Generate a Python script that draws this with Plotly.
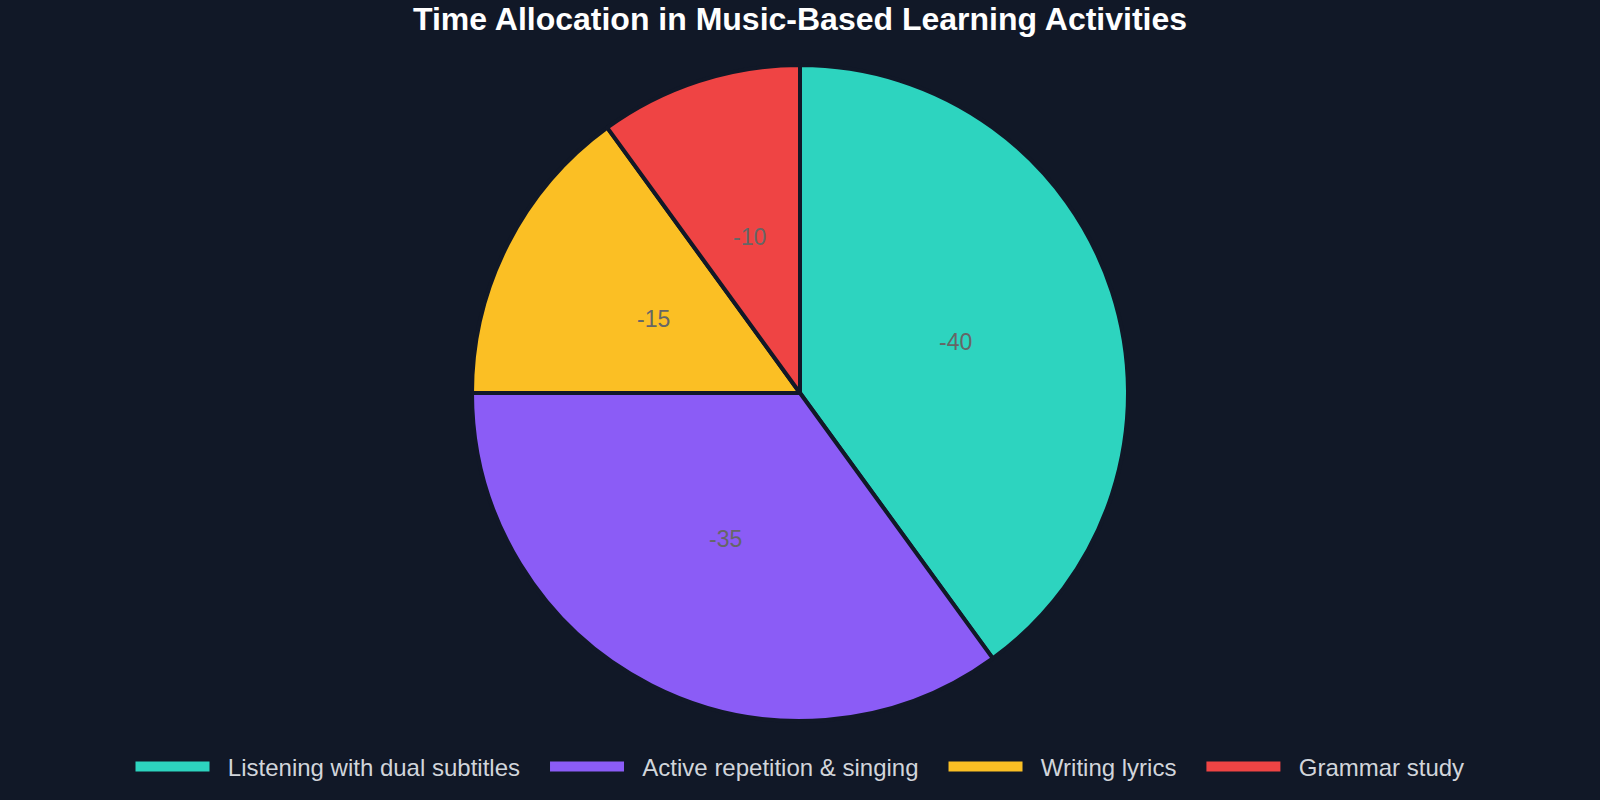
import math
import plotly.graph_objects as go

categories = ["Listening with dual subtitles", "Active repetition & singing", "Writing lyrics", "Grammar study"]
values = [40, 35, 15, 10]
colors = ["#2dd4bf", "#8b5cf6", "#fbbf24", "#ef4444"]

W, H = 1600, 800
M_L, M_R, M_T, M_B = 0, 0, 65, 79
FONT = "Liberation Sans, Arial, sans-serif"
NBSP = "\u00a0"

fig = go.Figure(go.Pie(
    labels=categories,
    values=values,
    sort=False,
    direction="clockwise",
    rotation=0,
    marker=dict(colors=colors, line=dict(color="#111827", width=4)),
    textinfo="none",
    hoverinfo="label+value",
    showlegend=False,
))

# legend entries (wide colour boxes) for each category
for i, (name, c) in enumerate(zip(categories, colors)):
    pad_after = NBSP * 3 if i < len(categories) - 1 else ""
    fig.add_trace(go.Scatter(
        x=[None], y=[None], mode="lines", name=NBSP * 2 + name + pad_after,
        line=dict(color=c, width=19), hoverinfo="skip",
    ))

# data labels at the middle radius of each slice (computed from the values)
radius = (H - M_T - M_B) / 2
total = sum(values)
cum = 0
for v in values:
    mid = (cum + v / 2) / total * 2 * math.pi
    cum += v
    fig.add_annotation(
        x=0.5, y=0.5, xref="paper", yref="paper",
        xshift=radius / 2 * math.sin(mid),
        yshift=radius / 2 * math.cos(mid),
        text=f"-{v}", showarrow=False,
        font=dict(family=FONT, size=23, color="#666666"),
    )

fig.update_layout(
    width=W, height=H,
    paper_bgcolor="#111827",
    plot_bgcolor="#111827",
    margin=dict(l=M_L, r=M_R, t=M_T, b=M_B),
    xaxis=dict(visible=False),
    yaxis=dict(visible=False),
    title=dict(
        text="<b>Time Allocation in Music-Based Learning Activities</b>",
        x=0.5, xanchor="center",
        y=1 - 19 / H, yanchor="middle", yref="container",
        font=dict(family=FONT, size=32, color="#ffffff"),
    ),
    showlegend=True,
    legend=dict(
        orientation="h",
        x=0.5, xanchor="center",
        y=1 - 767 / H, yanchor="middle", yref="container",
        font=dict(family=FONT, size=24, color="#d1d5db"),
        traceorder="normal",
        itemwidth=74,
    ),
)

fig.write_html(
    "out.html",
    config={"displayModeBar": False},
    post_script="document.body.style.margin='0';document.body.style.background='#111827';document.body.style.overflow='hidden';",
)
